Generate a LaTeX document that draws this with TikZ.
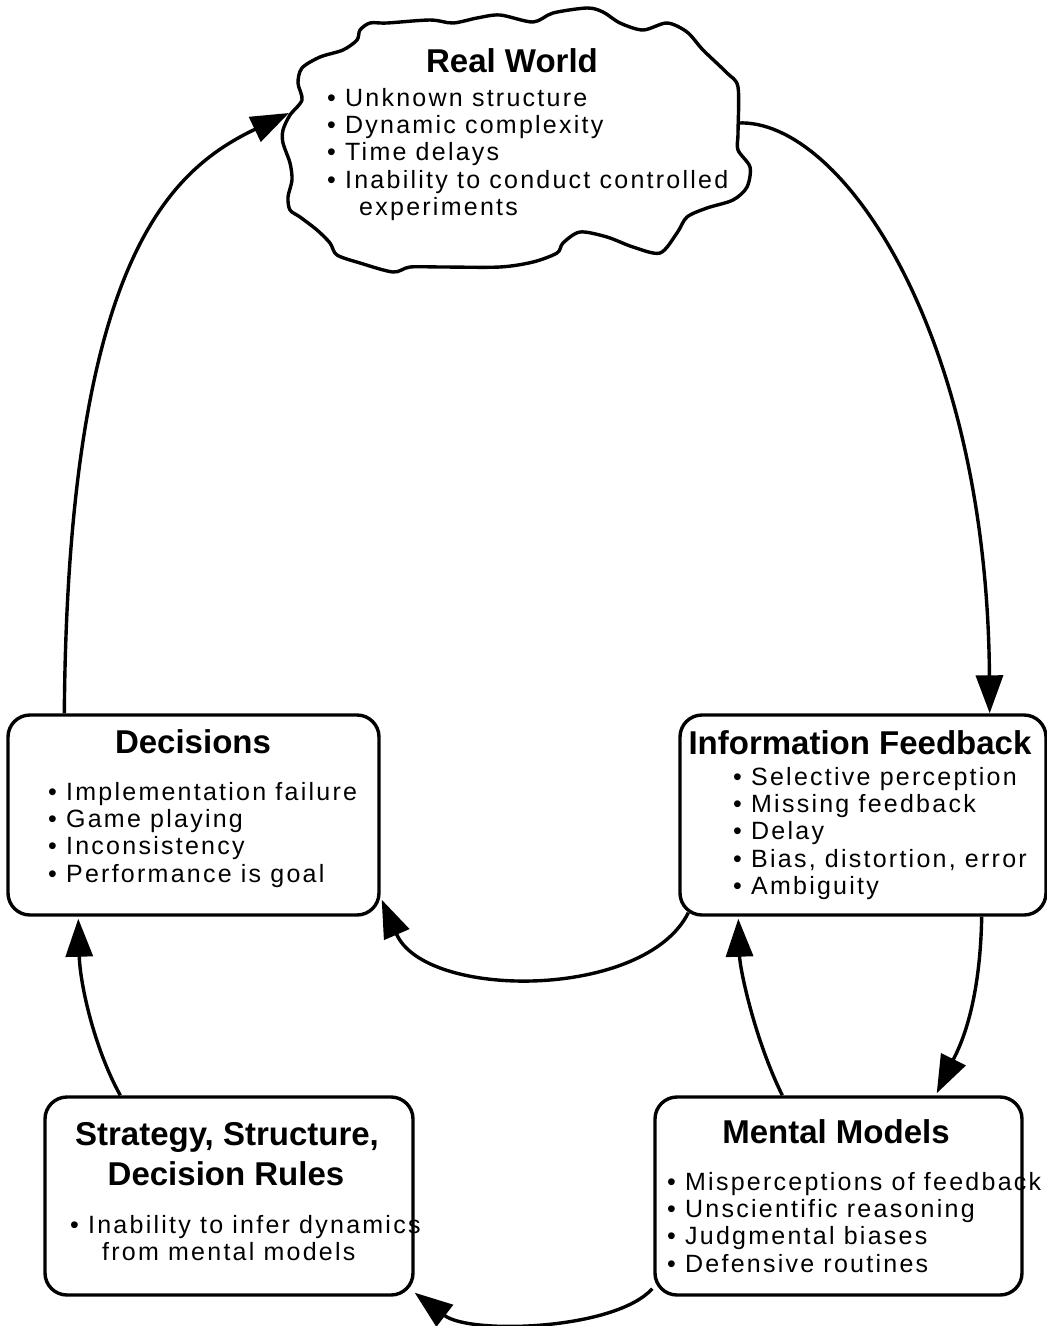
\documentclass[tikz,border=0pt]{standalone}
\usepackage{fontspec}
\setmainfont{Liberation Sans}
\newfontfamily\bodyf[LetterSpace=9]{Liberation Sans}
\usetikzlibrary{arrows.meta,calc}
\begin{document}
\begin{tikzpicture}[x=1pt,y=-1pt,
  box/.style={draw,line width=3.4pt,rounded corners=22pt,inner sep=0pt},
  ttl/.style={font=\fontsize{33}{40}\selectfont\bfseries,inner sep=0pt,anchor=base},
  lst/.style={font=\fontsize{25}{27.3}\selectfont\bodyf,inner sep=0pt,align=left,anchor=north west},
  conn/.style={line width=3.4pt,-{Triangle[length=38pt,width=27pt]}},
  cloudline/.style={line width=3.4pt,line join=round}]
\useasboundingbox (0,0) rectangle (1047,1326);

% cloud
\draw[cloudline] plot[smooth cycle, tension=0.5] coordinates {
(302,100) (290,115) (283,130) (283,143) (290,163) (292,180) (288,197) (290,210)
(300,217) (317,230) (330,243) (337,255) (360,263) (393,272) (410,267) (443,267)
(500,267) (533,262) (557,253) (563,243) (580,232) (607,237) (633,247) (660,253)
(677,233) (687,217) (707,208) (733,200) (747,187) (750,167) (738,150) (738,133)
(738,87) (727,73) (703,50) (687,32) (667,23) (643,30) (620,23) (603,12)
(587,8) (553,13) (533,22) (500,15) (477,18) (453,23) (430,20) (387,23)
(370,23) (360,30) (357,40) (343,50) (320,57) (302,68) (298,83)};
\coordinate (cloudW) at (289,113);
\coordinate (cloudE) at (738,123);
\node[ttl] (rwt) at (512,72) {Real World};
\node[lst] (rwl) at (327,88) {• Unknown structure\\ • Dynamic complexity\\ • Time delays\\ • Inability to conduct controlled\\ \hspace*{32pt}experiments};

% boxes
\node[box,minimum width=371pt,minimum height=200pt] (dec) at (193.5,815) {};
\node[box,minimum width=366pt,minimum height=200pt] (info) at (863,815) {};
\node[box,minimum width=368pt,minimum height=198pt] (strat) at (229,1196) {};
\node[box,minimum width=367pt,minimum height=198pt] (mm) at (838.5,1196) {};

\node[ttl] (dect) at (193,753) {Decisions};
\node[lst] (decl) at (48,782) {• Implementation failure\\ • Game playing\\ • Inconsistency\\ • Performance is goal};

\node[ttl] (infot) at (860,754) {Information Feedback};
\node[lst] (infol) at (733,767) {• Selective perception\\ • Missing feedback\\ • Delay\\ • Bias, distortion, error\\ • Ambiguity};

\node[ttl] (stratt1) at (227,1145) {Strategy, Structure,};
\node[ttl] (stratt2) at (226,1185) {Decision Rules};
\node[lst] (stratl) at (70,1215) {• Inability to infer dynamics\\ \hspace*{32pt}from mental models};

\node[ttl] (mmt) at (836,1143) {Mental Models};
\node[lst] (mml) at (667,1172) {• Misperceptions of feedback\\ • Unscientific reasoning\\ • Judgmental biases\\ • Defensive routines};

% connectors
\draw[conn] ($(dec.north west)+(58,0)$) .. controls (68,260) and (170,170) .. (cloudW);
\draw[conn] (cloudE) .. controls (840,118) and (987,330) .. ($(info.north east)+(-58,0)$);
\draw[conn] ($(info.south west)+(10,-4)$) .. controls (645,1000) and (425,1000) .. ($(dec.south east)+(1,-17)$);
\draw[conn] ($(info.south east)+(-66,0)$) .. controls (980,1010) and (958,1050) .. ($(mm.north east)+(-87,-2)$);
\draw[conn] ($(mm.north west)+(129,0)$) .. controls (755,1040) and (740,970) .. ($(info.south west)+(60,2)$);
\draw[conn] ($(mm.south west)+(-1,-8)$) .. controls (615,1330) and (470,1335) .. ($(strat.south east)+(0,-4)$);
\draw[conn] ($(strat.north west)+(77,0)$) .. controls (95,1050) and (80,985) .. ($(dec.south west)+(72,2)$);
\end{tikzpicture}
\end{document}
